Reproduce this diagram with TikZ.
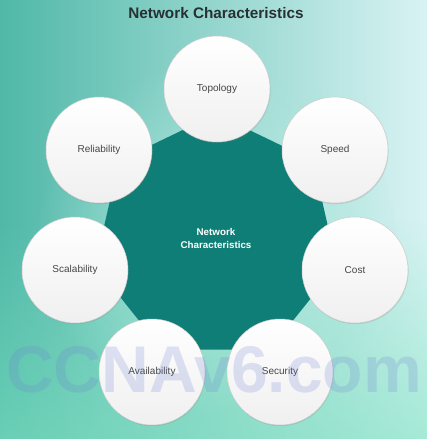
\documentclass[tikz,border=0pt]{standalone}
\usepackage{fontspec}
\setmainfont{Liberation Sans}
\usetikzlibrary{shapes.geometric,shadows,fadings}
\tikzfading[name=halofade, inner color=transparent!0, outer color=transparent!100]
\tikzfading[name=fadeup, top color=transparent!100, bottom color=transparent!0]
\definecolor{coreteal}{RGB}{14,126,118}
\definecolor{bgL}{RGB}{80,184,168}
\definecolor{bgM}{RGB}{140,214,208}
\definecolor{bgR}{RGB}{216,243,243}
\definecolor{mint}{RGB}{125,226,192}
\definecolor{halo}{RGB}{178,236,224}
\definecolor{labelgray}{RGB}{70,70,70}
\definecolor{titlegray}{RGB}{40,48,52}
\definecolor{wmblue}{RGB}{110,130,210}
\tikzset{
  bubble/.style={circle, minimum size=106pt, inner sep=0pt,
    top color=white, bottom color=gray!12, draw=gray!40, line width=0.5pt,
    drop shadow={opacity=0.22, shadow xshift=0.6pt, shadow yshift=-1.2pt},
    font=\fontsize{10}{12}\selectfont, text=labelgray},
  corestyle/.style={regular polygon, regular polygon sides=7, minimum size=248pt,
    inner sep=0pt, fill=coreteal, text=white, align=center,
    font=\bfseries\fontsize{9.8}{13}\selectfont},
  titlestyle/.style={font=\bfseries\fontsize{15.3}{18}\selectfont, text=titlegray},
  wmstyle/.style={font=\bfseries\fontsize{66}{66}\selectfont, text=wmblue, opacity=0.22}
}
\begin{document}
\begin{tikzpicture}[x=1pt,y=-1pt]
\useasboundingbox (0,0) rectangle (427,439);
\shade[left color=bgL, middle color=bgM, right color=bgR] (0,0) rectangle (427,439);
\fill[mint, path fading=fadeup, opacity=0.55] (0,220) rectangle (427,439);
\fill[halo, path fading=halofade, opacity=0.8] (216,238) circle (180);
\node[corestyle] (core) at (216,238) {Network\\Characteristics};
\node[bubble] (topology) at (217,89) {Topology};
\node[bubble] (speed) at (335,150) {Speed};
\node[bubble] (cost) at (355,270) {Cost};
\node[bubble] (security) at (280,372) {Security};
\node[bubble] (availability) at (152,372) {Availability};
\node[bubble] (scalability) at (75,270) {Scalability};
\node[bubble] (reliability) at (99,150) {Reliability};
\node[wmstyle] (wm) at (214,370) {CCNAv6.com};
\node[titlestyle] (title) at (216,13) {Network Characteristics};
\end{tikzpicture}
\end{document}
